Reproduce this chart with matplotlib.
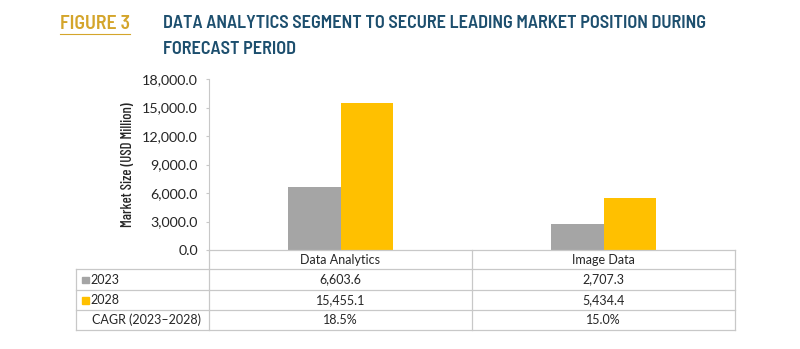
import matplotlib
matplotlib.use("Agg")
import matplotlib.pyplot as plt
from matplotlib.lines import Line2D
from matplotlib.patches import Rectangle

# ── Data ──────────────────────────────────────────────────────────────────────
segments = ["Data Analytics", "Image Data"]
years = ["2023", "2028"]
values_2023 = [6603.6, 2707.3]
values_2028 = [15455.1, 5434.4]
cagr = ["18.5%", "15.0%"]
y_ticks = [0, 3000, 6000, 9000, 12000, 15000, 18000]

COL_2023 = "#A5A5A5"
COL_2028 = "#FFC000"
GRID = "#C8C8C8"
TEXT = "#262626"
TITLE_BLUE = "#1D4F6E"
GOLD = "#D4A52B"

TITLE_FONT = ["Barlow Semi Condensed", "DejaVu Sans"]
LABEL_FONT = ["Barlow Condensed", "DejaVu Sans"]
BODY_FONT = ["Lato", "DejaVu Sans"]

W, H = 800, 349
fig = plt.figure(figsize=(W / 100, H / 100), dpi=100)
renderer = fig.canvas.get_renderer()


def fx(px):
    return px / W


def fy(py):
    return 1 - py / H


def fit_width(txt, span, rotated=False):
    """Scale a text's font size so that it covers `span` pixels."""
    bb = txt.get_window_extent(renderer)
    cur = bb.height if rotated else bb.width
    txt.set_fontsize(txt.get_fontsize() * span / cur)


# ── Title ─────────────────────────────────────────────────────────────────────
tkw = dict(family=TITLE_FONT, weight="semibold", fontsize=13, va="center", ha="left")
fig_no = fig.text(fx(60), fy(24), "FIGURE 3", color=GOLD, **tkw)
fit_width(fig_no, 70)
fig.add_artist(Line2D([fx(60), fx(130)], [fy(34), fy(34)], color=GOLD, lw=0.8))
line1 = fig.text(fx(163), fy(24),
                 "DATA ANALYTICS SEGMENT TO SECURE LEADING MARKET POSITION DURING",
                 color=TITLE_BLUE, **tkw)
fit_width(line1, 545)
fig.text(fx(163), fy(49), "FORECAST PERIOD", color=TITLE_BLUE,
         **{**tkw, "fontsize": line1.get_fontsize()})

# ── Bars ──────────────────────────────────────────────────────────────────────
left, right, top, base = 209, 735, 79, 250
ax = fig.add_axes([fx(left), fy(base), fx(right - left), (base - top) / H])
x = list(range(len(segments)))
bw = 0.2
ax.bar([i - bw / 2 for i in x], values_2023, width=bw, color=COL_2023)
ax.bar([i + bw / 2 for i in x], values_2028, width=bw, color=COL_2028)
ax.set_xlim(-0.5, len(segments) - 0.5)
ax.set_ylim(0, 18000)
ax.set_yticks(y_ticks)
ax.set_yticklabels([f"{v:,.1f}" for v in y_ticks], family=BODY_FONT, fontsize=10.3,
                   color=TEXT)
ax.set_xticks([])
for s in ("top", "right", "bottom"):
    ax.spines[s].set_visible(False)
ax.spines["left"].set_color(GRID)
ax.tick_params(axis="y", length=2.5, color=GRID, pad=5.5)

ylab = fig.text(fx(128), fy(165), "Market Size (USD Million)", family=LABEL_FONT,
                weight="medium", fontsize=9.5, rotation=90, ha="center", va="center",
                color=TEXT)
fit_width(ylab, 125, rotated=True)

# ── Data table ────────────────────────────────────────────────────────────────
tx0 = 76
col_edges = [left, (left + right) / 2, right]
row_edges = [250, 269, 290, 310, 330]


def hline(x0, x1, y):
    fig.add_artist(Line2D([fx(x0), fx(x1)], [fy(y), fy(y)], color=GRID, lw=0.9))


def vline(xp, y0, y1):
    fig.add_artist(Line2D([fx(xp), fx(xp)], [fy(y0), fy(y1)], color=GRID, lw=0.9))


hline(left, right, row_edges[0])
for ry in row_edges[1:]:
    hline(tx0, right, ry)
vline(tx0, row_edges[1], row_edges[-1])
for cx in col_edges:
    vline(cx, row_edges[0], row_edges[-1])


def mid(a, b):
    return (a + b) / 2


bkw = dict(family=BODY_FONT, fontsize=9, va="center", color=TEXT)
for j, seg in enumerate(segments):
    fig.text(fx(mid(col_edges[j], col_edges[j + 1])), fy(mid(row_edges[0], row_edges[1])),
             seg, ha="center", **bkw)

rows = [
    (years[0], [f"{v:,.1f}" for v in values_2023], COL_2023),
    (years[1], [f"{v:,.1f}" for v in values_2028], COL_2028),
    ("CAGR (2023\u20132028)", cagr, None),
]
for i, (label, cells, swatch) in enumerate(rows):
    yc = mid(row_edges[i + 1], row_edges[i + 2])
    if swatch:
        fig.add_artist(Rectangle((fx(82), fy(yc + 3.5)), 6.5 / W, 6.5 / H,
                                 color=swatch, transform=fig.transFigure))
        fig.text(fx(90.5), fy(yc), label, ha="left", **bkw)
    else:
        fig.text(fx(92), fy(yc), label, ha="left", **bkw)
    for j, c in enumerate(cells):
        fig.text(fx(mid(col_edges[j], col_edges[j + 1])), fy(yc), c, ha="center", **bkw)

fig.savefig("out.png", dpi=100)
